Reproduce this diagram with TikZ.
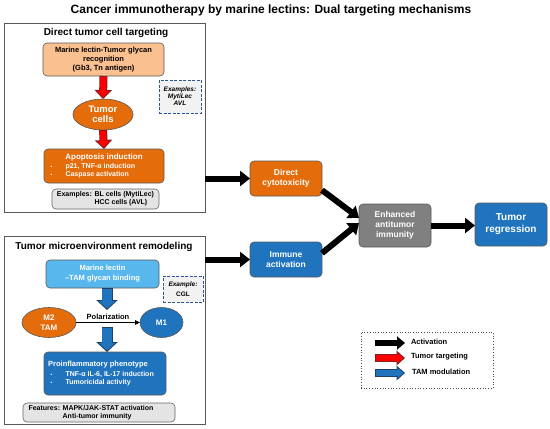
\documentclass[tikz,border=0pt]{standalone}
\usepackage{fontspec}
\setmainfont{Liberation Sans}
\usetikzlibrary{arrows.meta,shapes.geometric,calc}
\definecolor{orng}{HTML}{E46C0A}
\definecolor{lorng}{HTML}{FAC090}
\definecolor{blu}{HTML}{1F74BD}
\definecolor{lblu}{HTML}{58B8EE}
\definecolor{gry}{HTML}{808080}
\definecolor{redD}{HTML}{7F1F1F}
\definecolor{bluD}{HTML}{1F3F66}
\definecolor{dashc}{HTML}{2F5597}
\definecolor{lgry}{HTML}{E4E4E4}
\begin{document}
\begin{tikzpicture}[x=1pt,y=-1pt,
  every node/.style={font=\bfseries, inner sep=0pt, outer sep=0pt},
  panel/.style={draw=black!65, line width=0.8pt, minimum width=201pt},
  box/.style={rounded corners=4pt, draw=black!65, line width=0.6pt, align=center},
  dbox/.style={draw=dashc, dash pattern=on 3pt off 1.5pt, line width=1pt, fill=black!5, align=center},
  gbox/.style={rounded corners=4pt, draw=black!60, fill=lgry, line width=0.6pt},
  ell/.style={ellipse, draw=black!65, line width=0.6pt, align=center, text=white},
  wt/.style={text=white},
  fA/.style={font=\bfseries\fontsize{12}{14}\selectfont},
  fB/.style={font=\bfseries\fontsize{10}{12}\selectfont},
  fC/.style={font=\bfseries\fontsize{7.5}{9}\selectfont},
  fD/.style={font=\bfseries\fontsize{7}{8}\selectfont},
  fE/.style={font=\bfseries\fontsize{8.5}{10}\selectfont},
  blk/.style={line width=6pt, -{Triangle[length=10pt,width=15pt]}},
  redO/.style={line width=8pt, draw=redD, -{Triangle[length=9pt,width=17pt]}},
  redI/.style={line width=6.2pt, draw=red, shorten >=1.5pt, shorten <=0.8pt, -{Triangle[length=6.5pt,width=12.4pt]}},
  bluO/.style={line width=11pt, draw=bluD, -{Triangle[length=10pt,width=21pt]}},
  bluI/.style={line width=9.2pt, draw=blu, shorten >=1.4pt, shorten <=0.8pt, -{Triangle[length=7.6pt,width=16pt]}},
  lblk/.style={line width=6.5pt, -{Triangle[length=8pt,width=13pt]}},
  lO/.style={line width=8pt, -{Triangle[length=8.5pt,width=14.5pt]}},
  lI/.style={line width=6pt, shorten >=1.5pt, shorten <=0.8pt, -{Triangle[length=6pt,width=10.2pt]}},
  bul/.style={text=white, anchor=west, font=\bfseries\fontsize{7}{8}\selectfont}
]
\fill[white] (0,0) rectangle (550,429);
\useasboundingbox (0,0) rectangle (550,429);

\node[fA] (title) at (271,10) {Cancer immunotherapy by marine lectins: Dual targeting mechanisms};

% ---------- panel 1
\node[panel, minimum height=189pt] (p1) at (104.5,117.5) {};
\node[fB] (p1t) at (106,33) {Direct tumor cell targeting};
\node[box, fill=lorng, minimum width=121pt, minimum height=33pt, fC] (recog) at (103.5,59.5)
  {Marine lectin-Tumor glycan\\recognition\\(Gb3, Tn antigen)};
\node[dbox, minimum width=42pt, minimum height=33pt, font=\bfseries\itshape\fontsize{6.5}{7}\selectfont] (ex1) at (180,96.5)
  {Examples:\\MytiLec\\AVL};
\node[ell, fill=orng, minimum width=60pt, minimum height=31pt, font=\bfseries\fontsize{9.5}{10}\selectfont] (tumor) at (103,114.5) {Tumor\\cells};
\node[box, fill=orng, minimum width=120pt, minimum height=34pt] (apop) at (104,166) {};
\node[wt, font=\bfseries\fontsize{8}{9}\selectfont] (apoph) at (104,157) {Apoptosis induction};
\node[bul] (apopb1) at (50.5,167) {\makebox[15pt][l]{\fontsize{5}{6}\selectfont•}p21, TNF-α induction};
\node[bul] (apopb2) at (50.5,175) {\makebox[15pt][l]{\fontsize{5}{6}\selectfont•}Caspase activation};
\node[gbox, minimum width=107pt, minimum height=20pt, fD] (exbl) at (105.5,199)
  {\begin{tabular}{@{}l@{ }l@{}}Examples: & BL cells (MytiLec)\\ & HCC cells (AVL)\end{tabular}};

\draw[redO] (recog.south) -- (tumor.north);
\draw[redI] (recog.south) -- (tumor.north);
\draw[redO] (tumor.south) -- (apop.north);
\draw[redI] (tumor.south) -- (apop.north);

% ---------- panel 2
\node[panel, minimum height=188pt] (p2) at (104.5,330) {};
\node[fB] (p2t) at (104,247) {Tumor microenvironment remodeling};
\node[box, fill=lblu, text=white, minimum width=113pt, minimum height=28pt, font=\bfseries\fontsize{7.5}{10}\selectfont] (bind) at (102.5,274)
  {Marine lectin\\–TAM glycan binding};
\node[dbox, minimum width=40pt, minimum height=26pt, font=\bfseries\fontsize{6.5}{9.5}\selectfont] (ex2) at (183,289)
  {\itshape Example:\\CGL};
\node[ell, fill=orng, minimum width=54pt, minimum height=30pt, font=\bfseries\fontsize{8}{10}\selectfont] (m2) at (49,322.5) {M2\\TAM};
\node[ell, fill=blu, minimum width=43pt, minimum height=30pt, font=\bfseries\fontsize{8}{10}\selectfont] (m1) at (161.5,322.5) {M1};
\draw[line width=0.9pt, -{Triangle[length=5pt,width=4.5pt]}] (m2) -- node[above=3pt, fC] (pollab) {Polarization} (m1);
\coordinate (polT) at (107,310);
\coordinate (polB) at (107,327);
\node[box, fill=blu, minimum width=122pt, minimum height=43pt] (pheno) at (105,373.5) {};
\node[wt, fC] (phenoh) at (98,365) {Proinflammatory phenotype};
\node[bul] (phenob1) at (50.5,375) {\makebox[15pt][l]{\fontsize{5}{6}\selectfont•}TNF-α IL-6, IL-17 induction};
\node[bul] (phenob2) at (50.5,383) {\makebox[15pt][l]{\fontsize{5}{6}\selectfont•}Tumoricidal activity};
\node[gbox, minimum width=152pt, minimum height=19pt] (feat) at (99,412.5) {};
\node[fD] (featt) at (91,412.5)
  {\begin{tabular}{@{}l@{ }l@{}}Features: & MAPK/JAK-STAT activation\\ & Anti-tumor immunity\end{tabular}};

\draw[bluO] (bind.south -| polT) -- (polT);
\draw[bluI] (bind.south -| polT) -- (polT);
\draw[bluO] (polB) -- (polB |- pheno.north);
\draw[bluI] (polB) -- (polB |- pheno.north);

% ---------- right side
\node[box, fill=orng, text=white, minimum width=72pt, minimum height=35pt, fE] (cyto) at (286,178.5) {Direct\\cytotoxicity};
\node[box, fill=blu, text=white, minimum width=72pt, minimum height=35pt, fE] (immune) at (286,259.5) {Immune\\activation};
\node[box, fill=gry, text=white, minimum width=72pt, minimum height=43pt, fE] (enh) at (395,225.5) {Enhanced\\antitumor\\immunity};
\node[box, fill=blu, text=white, minimum width=72pt, minimum height=43pt, font=\bfseries\fontsize{10}{12}\selectfont] (regr) at (511,224.5) {Tumor\\regression};

\draw[blk] (p1.east |- cyto.west) -- (cyto.west);
\draw[blk] (p2.east |- immune.west) -- (immune.west);
\draw[blk] (cyto.-18) -- (enh.168);
\draw[blk] (immune.10) -- (enh.176);
\draw[blk] (enh.east) -- (enh.east -| regr.west);

% ---------- legend
\node[draw=black!70, dotted, line width=0.7pt, minimum width=132pt, minimum height=56pt] (legend) at (427,360) {};
\coordinate (la1) at (375,343); \coordinate (lb1) at (405,343);
\coordinate (la2) at (375,358); \coordinate (lb2) at (405,358);
\coordinate (la3) at (375,373); \coordinate (lb3) at (405,373);
\draw[lblk] (la1) -- (lb1);
\draw[lO, draw=redD] (la2) -- (lb2);
\draw[lI, draw=red] (la2) -- (lb2);
\draw[lO, draw=bluD] (la3) -- (lb3);
\draw[lI, draw=blu] (la3) -- (lb3);
\node[fC, anchor=west] (lt1) at (411,342) {Activation};
\node[fC, anchor=west] (lt2) at (411,356.5) {Tumor targeting};
\node[fC, anchor=west] (lt3) at (412,372) {TAM modulation};
\end{tikzpicture}
\end{document}
